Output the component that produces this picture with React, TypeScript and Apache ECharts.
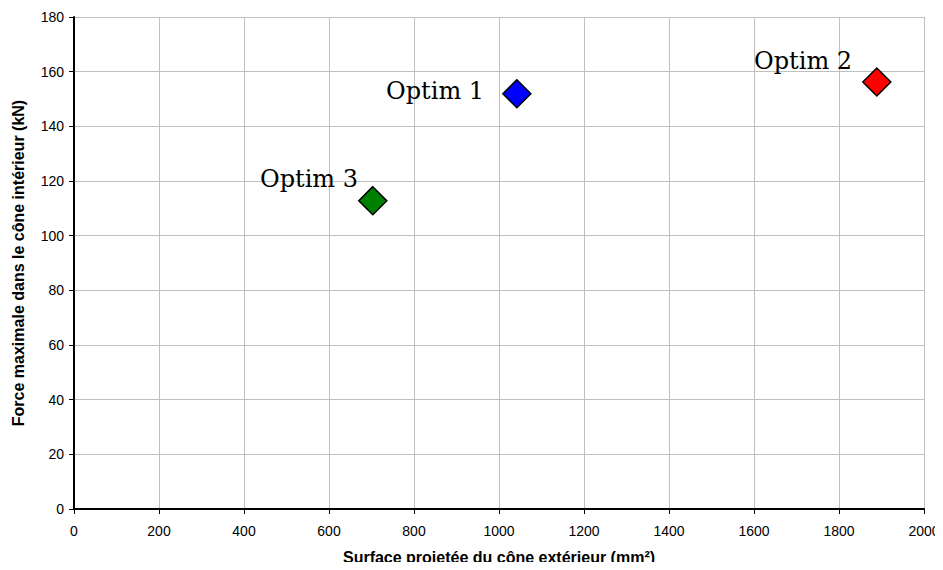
import React, { useEffect, useRef } from "react";
import * as echarts from "echarts";

const names = ["Optim 1", "Optim 2", "Optim 3"];
const surfaces = [1042, 1889, 703];
const forces = [151.9, 156.2, 112.8];

const xTicks = { min: 0, max: 2000, interval: 200 };
const yTicks = { min: 0, max: 180, interval: 20 };

const colors = ["#0000ff", "#ff0000", "#008000"];
const labelOffsets: [number, number][] = [[-18, -3], [-10, -21], [0, -22]];

export default function App() {
  const ref = useRef<HTMLDivElement>(null);
  useEffect(() => {
    if (!ref.current) return;
    const chart = echarts.init(ref.current, null, { renderer: "svg" });
    const axisLabel = {
      color: "#000",
      fontFamily: "Liberation Sans, Arial",
      fontSize: 14,
      formatter: (v: number) => String(v),
    };
    const nameStyle = { fontFamily: "Liberation Sans, Arial", fontWeight: "bold", fontSize: 16, color: "#000" };
    chart.setOption({
      animation: false,
      backgroundColor: "#fff",
      grid: { left: 74, right: 19, top: 17, bottom: 60 },
      xAxis: {
        type: "value",
        ...xTicks,
        name: "Surface projetée du cône extérieur (mm²)",
        nameLocation: "middle",
        nameGap: 40,
        nameTextStyle: nameStyle,
        axisLine: { show: true, onZero: false, lineStyle: { color: "#000", width: 2 } },
        axisTick: { show: true, length: 5, lineStyle: { color: "#000", width: 1 } },
        axisLabel: { ...axisLabel, margin: 15 },
        splitLine: { show: true, lineStyle: { color: "#c0c0c0", width: 1 } },
      },
      yAxis: {
        type: "value",
        ...yTicks,
        name: "Force maximale dans le cône intérieur (kN)",
        nameLocation: "middle",
        nameGap: 48,
        nameTextStyle: nameStyle,
        axisLine: { show: true, onZero: false, lineStyle: { color: "#000", width: 2 } },
        axisTick: { show: true, length: 5, lineStyle: { color: "#000", width: 1 } },
        axisLabel: { ...axisLabel, margin: 10 },
        splitLine: { show: true, lineStyle: { color: "#c0c0c0", width: 1 } },
      },
      series: [
        {
          type: "scatter",
          symbol: "diamond",
          symbolSize: 28,
          data: names.map((n, i) => ({
            name: n,
            value: [surfaces[i], forces[i]],
            itemStyle: { color: colors[i], borderColor: "#000", borderWidth: 1.5, opacity: 1 },
            label: {
              show: true,
              position: "left",
              distance: 0,
              offset: labelOffsets[i],
              formatter: n,
              fontFamily: "DejaVu Serif, Liberation Serif, serif",
              fontSize: 24,
              color: "#000",
            },
          })),
        },
      ],
    });
    return () => chart.dispose();
  }, []);
  return <div ref={ref} style={{ width: 943, height: 570, margin: -8 }} />;
}
